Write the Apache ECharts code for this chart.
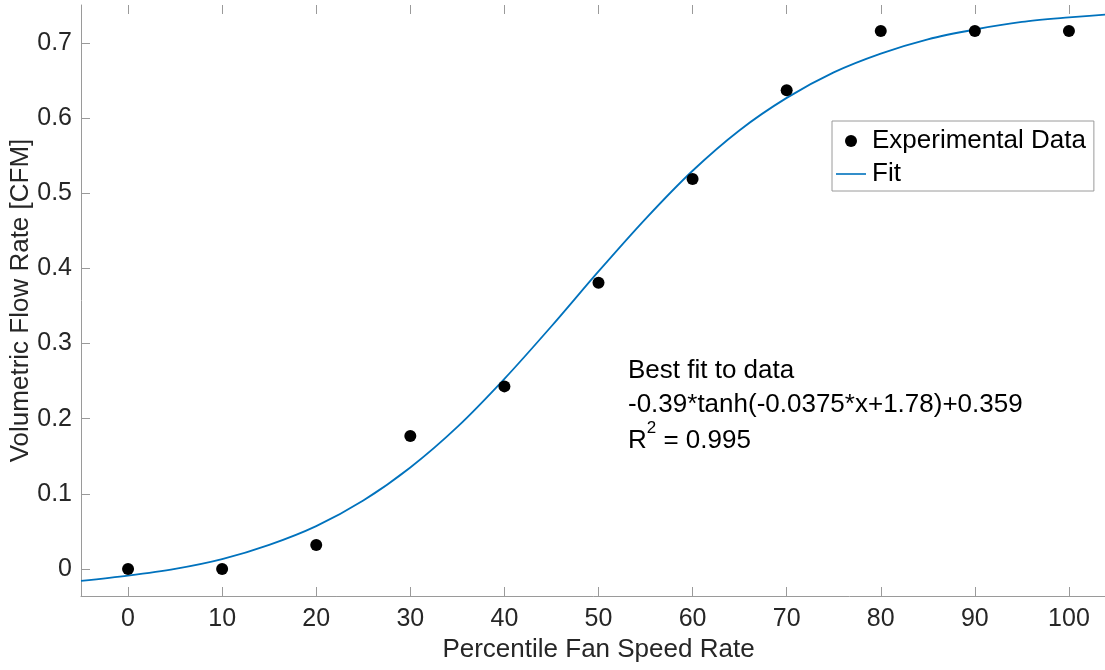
<!DOCTYPE html>
<html>
<head>
<meta charset="utf-8">
<script src="https://cdn.jsdelivr.net/npm/echarts@6/dist/echarts.min.js"></script>
<style>
  html, body { margin: 0; padding: 0; background: #fff; }
  #chart { width: 1105px; height: 670px; }
</style>
</head>
<body>
<div id="chart"></div>
<script>
// measured points
const fanSpeed = [0, 10, 20, 30, 40, 50, 60, 70, 80, 90, 100];
const flowRate = [0, 0, 0.032, 0.177, 0.243, 0.381, 0.519, 0.637, 0.716, 0.716, 0.716];

// fit curve, every 5 %
const fitX = [-5, 0, 5, 10, 15, 20, 25, 30, 35, 40, 45, 50, 55, 60, 65, 70, 75, 80, 85, 90, 95, 100, 105];
const fitY = [-0.016, -0.009, 0.000, 0.013, 0.032, 0.057, 0.091, 0.135, 0.189, 0.253, 0.323, 0.396,
  0.466, 0.530, 0.584, 0.627, 0.661, 0.686, 0.705, 0.718, 0.728, 0.734, 0.739];

const xTicks = [0, 10, 20, 30, 40, 50, 60, 70, 80, 90, 100];
const yTicks = [0, 0.1, 0.2, 0.3, 0.4, 0.5, 0.6, 0.7];

const font = '"Liberation Sans", Arial, Helvetica, sans-serif';
const axisGray = '#9a9a9a';
const textDark = '#262626';

const myChart = echarts.init(document.getElementById('chart'));

const option = {
  animation: false,
  backgroundColor: '#fff',
  textStyle: { fontFamily: font },
  // plot box runs a little past the right edge of the picture
  grid: { left: 81, top: 5, width: 1035, height: 591, outerBoundsMode: 'none', containLabel: false },
  legend: {
    orient: 'vertical',
    left: 832,
    top: 121,
    padding: [7, 8, 4, 4],
    itemGap: 7,
    itemWidth: 30,
    itemHeight: 12,
    borderColor: axisGray,
    borderWidth: 1,
    borderRadius: 0,
    backgroundColor: '#fff',
    textStyle: { fontFamily: font, fontSize: 26, color: '#000', padding: [0, 0, 0, 1] },
    data: [
      { name: 'Experimental Data', icon: 'circle' },
      { name: 'Fit', icon: 'path://M0,0 L30,0 L30,1.6 L0,1.6 Z' }
    ]
  },
  xAxis: [
    {
      type: 'value',
      min: -5,
      max: 105,
      position: 'bottom',
      name: 'Percentile Fan Speed Rate',
      nameLocation: 'middle',
      nameGap: 40,
      nameTextStyle: { fontFamily: font, fontSize: 26, color: textDark },
      splitLine: { show: false },
      axisLine: { show: true, onZero: false, lineStyle: { color: axisGray, width: 1 } },
      axisTick: { show: true, inside: true, length: 9, customValues: xTicks, lineStyle: { color: axisGray } },
      axisLabel: { customValues: xTicks, fontFamily: font, fontSize: 25, color: textDark, margin: 11 }
    },
    {
      // top edge ticks only
      type: 'value',
      min: -5,
      max: 105,
      position: 'top',
      splitLine: { show: false },
      axisLine: { show: false, onZero: false },
      axisTick: { show: true, inside: true, length: 9, customValues: xTicks, lineStyle: { color: axisGray } },
      axisLabel: { show: false }
    }
  ],
  yAxis: [
    {
      type: 'value',
      min: -0.036,
      max: 0.7506,
      position: 'left',
      name: 'Volumetric Flow Rate [CFM]',
      nameLocation: 'middle',
      nameGap: 47,
      nameMoveOverlap: false,
      nameTextStyle: { fontFamily: font, fontSize: 26, color: textDark },
      splitLine: { show: false },
      axisLine: { show: true, onZero: false, lineStyle: { color: axisGray, width: 1 } },
      axisTick: { show: true, inside: true, length: 9, customValues: yTicks, lineStyle: { color: axisGray } },
      axisLabel: { customValues: yTicks, fontFamily: font, fontSize: 25, color: textDark, margin: 9 }
    },
    {
      type: 'value',
      min: -0.036,
      max: 0.7506,
      position: 'right',
      splitLine: { show: false },
      axisLine: { show: false, onZero: false },
      axisTick: { show: true, inside: true, length: 9, customValues: yTicks, lineStyle: { color: axisGray } },
      axisLabel: { show: false }
    }
  ],
  graphic: [
    {
      type: 'text',
      left: 628,
      top: 354,
      style: {
        text: 'Best fit to data\n-0.39*tanh(-0.0375*x+1.78)+0.359',
        font: '26px ' + font,
        fill: '#000',
        lineHeight: 34
      }
    },
    {
      type: 'text',
      left: 628,
      top: 420,
      style: {
        text: '{m|R}{s|2}{m| = 0.995}',
        fill: '#000',
        rich: {
          m: { fontFamily: font, fontSize: 26, lineHeight: 34, verticalAlign: 'bottom' },
          s: { fontFamily: font, fontSize: 17, lineHeight: 34, verticalAlign: 'top' }
        }
      }
    }
  ],
  series: [
    {
      name: 'Experimental Data',
      type: 'scatter',
      symbol: 'circle',
      symbolSize: 12,
      itemStyle: { color: '#000', opacity: 1 },
      z: 3,
      data: fanSpeed.map((x, i) => [x, flowRate[i]])
    },
    {
      name: 'Fit',
      type: 'line',
      symbol: 'none',
      smooth: 0.3,
      lineStyle: { color: '#0072BD', width: 1.8 },
      itemStyle: { color: '#0072BD' },
      z: 2,
      data: fitX.map((x, i) => [x, fitY[i]])
    }
  ]
};

myChart.setOption(option);
</script>
</body>
</html>
